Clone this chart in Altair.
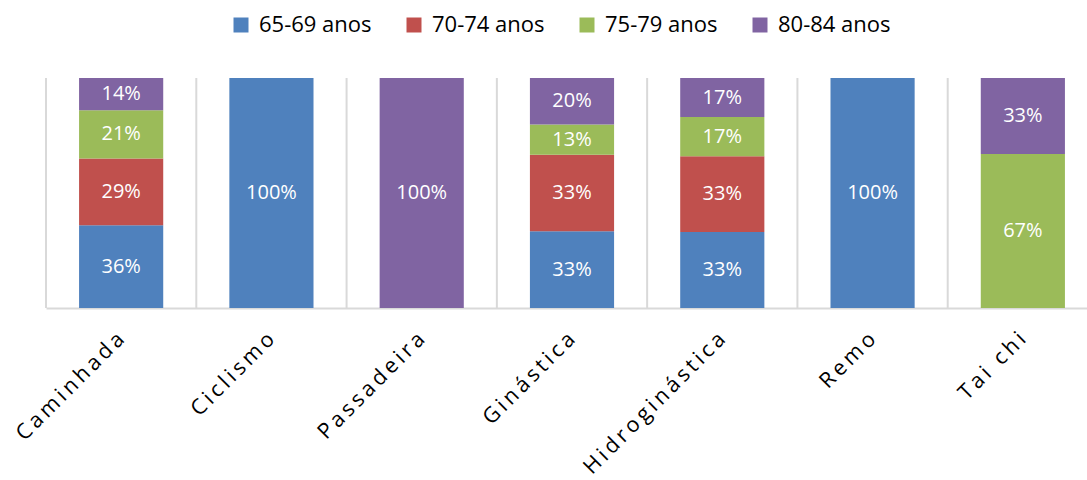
import altair as alt
import pandas as pd

# Modalidades e faixas etárias
categories = ["Caminhada", "Ciclismo", "Passadeira", "Ginástica",
              "Hidroginástica", "Remo", "Tai chi"]
groups = ["65-69 anos", "70-74 anos", "75-79 anos", "80-84 anos"]
colors = ["#4F81BD", "#C0504D", "#9BBB59", "#8064A2"]

# Percentagem de praticantes por faixa etária em cada modalidade
pct_65_69 = [36, 100, 0, 33, 33, 100, 0]
pct_70_74 = [29, 0, 0, 33, 33, 0, 0]
pct_75_79 = [21, 0, 0, 13, 17, 0, 67]
pct_80_84 = [14, 0, 100, 20, 17, 0, 33]

series = [pct_65_69, pct_70_74, pct_75_79, pct_80_84]
rows = []
for gi, (g, vals) in enumerate(zip(groups, series)):
    for cat, v in zip(categories, vals):
        rows.append({"cat": cat, "grupo": g, "ordem": gi, "pct": v})
df = pd.DataFrame(rows)
df_cats = pd.DataFrame({"cat": categories})

FONT = "Open Sans"
GRID = "#d9d9d9"
W, H = 1041, 230
X_RANGE = [0, 1052]

x_scale = alt.Scale(domain=categories, range=X_RANGE,
                    paddingInner=0.44, paddingOuter=0.22)
x_axis = alt.Axis(
    title=None, grid=False, ticks=False, domain=True,
    domainColor=GRID, domainWidth=2,
    labelAngle=-45, labelAlign="right", labelBaseline="middle",
    labelFont=FONT, labelFontSize=21.5, labelColor="#000000",
    labelPadding=28, labelLimit=400,
    labelExpr="join(split(datum.label, ''), '\u2009')",
)
y_scale = alt.Scale(domain=[0, 1])

# Linhas verticais de separação no início de cada categoria (escala sem folgas)
grid_scale = alt.Scale(domain=categories, range=X_RANGE,
                       paddingInner=0, paddingOuter=0)
grid_rules = alt.Chart(df_cats).mark_rule(color=GRID, strokeWidth=2).encode(
    x=alt.X("cat:N", sort=categories, scale=grid_scale, axis=None, bandPosition=0),
    y=alt.value(0),
    y2=alt.value(H),
)

base = alt.Chart(df).transform_stack(
    stack="pct", groupby=["cat"], as_=["y0", "y1"],
    offset="normalize", sort=[alt.SortField("ordem", order="ascending")],
)

bars = base.mark_bar(stroke=None).encode(
    x=alt.X("cat:N", sort=categories, scale=x_scale, axis=x_axis),
    y=alt.Y("y0:Q", scale=y_scale, axis=None),
    y2="y1:Q",
    color=alt.Color(
        "grupo:N",
        scale=alt.Scale(domain=groups, range=colors),
        legend=alt.Legend(
            title=None, orient="none", direction="horizontal",
            legendX=184, legendY=-64, padding=0,
            symbolType="square", symbolSize=225, symbolStrokeWidth=0,
            symbolOpacity=1, labelFont=FONT, labelFontSize=22,
            labelColor="#000000", labelOffset=7, columnPadding=31,
            labelLimit=300,
        ),
    ),
)

labels = base.transform_filter("datum.pct > 0").transform_calculate(
    ymid="(datum.y0 + datum.y1) / 2",
    rotulo="datum.pct + '%'",
).mark_text(font=FONT, fontSize=20, color="white", baseline="middle").encode(
    x=alt.X("cat:N", sort=categories, scale=x_scale, axis=x_axis),
    y=alt.Y("ymid:Q", scale=y_scale, axis=None),
    text="rotulo:N",
)

plot = alt.layer(bars, labels)

chart = alt.layer(grid_rules, plot).resolve_scale(x="independent").properties(
    width=W, height=H,
    background="white",
    autosize=alt.AutoSizeParams(type="none"),
    padding={"left": 46, "top": 78, "right": 0, "bottom": 172},
).configure_view(stroke=None)

chart.save("out.html", embed_options={"renderer": "svg", "actions": False})
